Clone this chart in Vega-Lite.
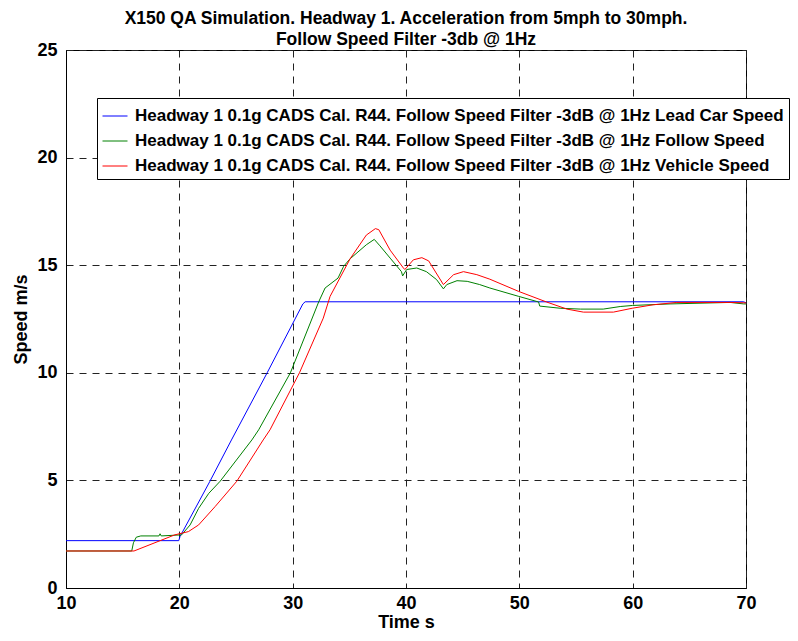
{
  "$schema": "https://vega.github.io/schema/vega-lite/v6.json",
  "width": 680,
  "height": 538,
  "autosize": {"type": "none"},
  "padding": {"left": 66, "top": 50, "right": 52, "bottom": 53},
  "background": "white",
  "config": {
    "font": "Liberation Sans",
    "view": {"stroke": "black", "strokeWidth": 1},
    "axis": {
      "gridDash": [7, 6],
      "gridColor": "#222222",
      "gridOpacity": 1,
      "gridWidth": 1,
      "domainColor": "black",
      "ticks": false,
      "labelFlush": false,
      "labelFont": "Liberation Sans",
      "labelFontWeight": "bold",
      "labelFontSize": 18,
      "labelColor": "black",
      "titleFont": "Liberation Sans",
      "titleFontWeight": "bold",
      "titleFontSize": 18,
      "titleColor": "black"
    }
  },
  "title": {
    "text": ["X150 QA Simulation. Headway 1. Acceleration from 5mph to 30mph.", "Follow Speed Filter -3db @ 1Hz"],
    "font": "Liberation Sans",
    "fontSize": 17.5,
    "fontWeight": "bold",
    "color": "black",
    "anchor": "middle",
    "offset": -7,
    "lineHeight": 21
  },
  "data": {
    "values": [
      {"s": "Lead Car Speed", "t": 10, "v": 2.2},
      {"s": "Lead Car Speed", "t": 19.95, "v": 2.2},
      {"s": "Lead Car Speed", "t": 20.06, "v": 2.39},
      {"s": "Lead Car Speed", "t": 22.7, "v": 4.96},
      {"s": "Lead Car Speed", "t": 24.6, "v": 6.88},
      {"s": "Lead Car Speed", "t": 27.75, "v": 10.0},
      {"s": "Lead Car Speed", "t": 30.9, "v": 13.2},
      {"s": "Lead Car Speed", "t": 31.1, "v": 13.3},
      {"s": "Lead Car Speed", "t": 69.8, "v": 13.3},
      {"s": "Lead Car Speed", "t": 70, "v": 13.25},

      {"s": "Follow Speed", "t": 10, "v": 1.72},
      {"s": "Follow Speed", "t": 15.8, "v": 1.72},
      {"s": "Follow Speed", "t": 15.95, "v": 2.1},
      {"s": "Follow Speed", "t": 16.2, "v": 2.36},
      {"s": "Follow Speed", "t": 16.6, "v": 2.42},
      {"s": "Follow Speed", "t": 18.2, "v": 2.42},
      {"s": "Follow Speed", "t": 18.3, "v": 2.52},
      {"s": "Follow Speed", "t": 18.4, "v": 2.42},
      {"s": "Follow Speed", "t": 20.2, "v": 2.47},
      {"s": "Follow Speed", "t": 20.95, "v": 2.93},
      {"s": "Follow Speed", "t": 21.7, "v": 3.7},
      {"s": "Follow Speed", "t": 22.6, "v": 4.4},
      {"s": "Follow Speed", "t": 23.6, "v": 4.96},
      {"s": "Follow Speed", "t": 26.4, "v": 6.88},
      {"s": "Follow Speed", "t": 27.0, "v": 7.35},
      {"s": "Follow Speed", "t": 29.8, "v": 10.0},
      {"s": "Follow Speed", "t": 32.3, "v": 13.3},
      {"s": "Follow Speed", "t": 32.86, "v": 13.94},
      {"s": "Follow Speed", "t": 34.0, "v": 14.4},
      {"s": "Follow Speed", "t": 34.5, "v": 14.95},
      {"s": "Follow Speed", "t": 35.07, "v": 15.3},
      {"s": "Follow Speed", "t": 36.5, "v": 15.95},
      {"s": "Follow Speed", "t": 37.2, "v": 16.2},
      {"s": "Follow Speed", "t": 37.7, "v": 15.9},
      {"s": "Follow Speed", "t": 38.6, "v": 15.33},
      {"s": "Follow Speed", "t": 39.6, "v": 14.7},
      {"s": "Follow Speed", "t": 39.7, "v": 14.5},
      {"s": "Follow Speed", "t": 40.06, "v": 14.8},
      {"s": "Follow Speed", "t": 40.95, "v": 14.87},
      {"s": "Follow Speed", "t": 41.8, "v": 14.7},
      {"s": "Follow Speed", "t": 42.7, "v": 14.33},
      {"s": "Follow Speed", "t": 43.3, "v": 13.9},
      {"s": "Follow Speed", "t": 43.6, "v": 14.1},
      {"s": "Follow Speed", "t": 44.5, "v": 14.28},
      {"s": "Follow Speed", "t": 45.4, "v": 14.25},
      {"s": "Follow Speed", "t": 46.5, "v": 14.1},
      {"s": "Follow Speed", "t": 47.4, "v": 13.94},
      {"s": "Follow Speed", "t": 49.95, "v": 13.55},
      {"s": "Follow Speed", "t": 51.7, "v": 13.29},
      {"s": "Follow Speed", "t": 51.8, "v": 13.1},
      {"s": "Follow Speed", "t": 53.6, "v": 13.0},
      {"s": "Follow Speed", "t": 55.4, "v": 12.96},
      {"s": "Follow Speed", "t": 57.4, "v": 12.96},
      {"s": "Follow Speed", "t": 58.9, "v": 13.08},
      {"s": "Follow Speed", "t": 60.0, "v": 13.13},
      {"s": "Follow Speed", "t": 63.3, "v": 13.2},
      {"s": "Follow Speed", "t": 68.6, "v": 13.27},
      {"s": "Follow Speed", "t": 69.8, "v": 13.2},
      {"s": "Follow Speed", "t": 70, "v": 13.2},

      {"s": "Vehicle Speed", "t": 10, "v": 1.72},
      {"s": "Vehicle Speed", "t": 16.0, "v": 1.72},
      {"s": "Vehicle Speed", "t": 19.6, "v": 2.47},
      {"s": "Vehicle Speed", "t": 20.8, "v": 2.62},
      {"s": "Vehicle Speed", "t": 21.7, "v": 2.93},
      {"s": "Vehicle Speed", "t": 23.15, "v": 3.78},
      {"s": "Vehicle Speed", "t": 25.07, "v": 4.96},
      {"s": "Vehicle Speed", "t": 27.4, "v": 6.88},
      {"s": "Vehicle Speed", "t": 28.0, "v": 7.35},
      {"s": "Vehicle Speed", "t": 30.6, "v": 10.0},
      {"s": "Vehicle Speed", "t": 32.7, "v": 12.54},
      {"s": "Vehicle Speed", "t": 33.3, "v": 13.55},
      {"s": "Vehicle Speed", "t": 35.07, "v": 15.3},
      {"s": "Vehicle Speed", "t": 36.5, "v": 16.4},
      {"s": "Vehicle Speed", "t": 37.3, "v": 16.7},
      {"s": "Vehicle Speed", "t": 37.6, "v": 16.65},
      {"s": "Vehicle Speed", "t": 38.6, "v": 15.7},
      {"s": "Vehicle Speed", "t": 39.77, "v": 14.87},
      {"s": "Vehicle Speed", "t": 39.9, "v": 14.8},
      {"s": "Vehicle Speed", "t": 40.65, "v": 15.25},
      {"s": "Vehicle Speed", "t": 41.4, "v": 15.35},
      {"s": "Vehicle Speed", "t": 42.0, "v": 15.2},
      {"s": "Vehicle Speed", "t": 43.3, "v": 14.1},
      {"s": "Vehicle Speed", "t": 44.2, "v": 14.56},
      {"s": "Vehicle Speed", "t": 45.07, "v": 14.7},
      {"s": "Vehicle Speed", "t": 46.25, "v": 14.56},
      {"s": "Vehicle Speed", "t": 47.4, "v": 14.35},
      {"s": "Vehicle Speed", "t": 49.95, "v": 13.78},
      {"s": "Vehicle Speed", "t": 52.4, "v": 13.29},
      {"s": "Vehicle Speed", "t": 54.2, "v": 12.96},
      {"s": "Vehicle Speed", "t": 55.65, "v": 12.82},
      {"s": "Vehicle Speed", "t": 58.3, "v": 12.82},
      {"s": "Vehicle Speed", "t": 59.96, "v": 13.0},
      {"s": "Vehicle Speed", "t": 61.8, "v": 13.16},
      {"s": "Vehicle Speed", "t": 63.9, "v": 13.27},
      {"s": "Vehicle Speed", "t": 68.6, "v": 13.27},
      {"s": "Vehicle Speed", "t": 70, "v": 13.25}
    ]
  },
  "mark": {"type": "line", "strokeWidth": 1, "clip": true},
  "encoding": {
    "x": {
      "field": "t",
      "type": "quantitative",
      "scale": {"domain": [10, 70], "nice": false},
      "axis": {"values": [10, 20, 30, 40, 50, 60, 70], "title": "Time s", "labelPadding": 6, "titlePadding": 1}
    },
    "y": {
      "field": "v",
      "type": "quantitative",
      "scale": {"domain": [0, 25], "nice": false},
      "axis": {"values": [0, 5, 10, 15, 20, 25], "title": "Speed m/s", "labelPadding": 9, "titlePadding": 6}
    },
    "color": {
      "field": "s",
      "type": "nominal",
      "scale": {"domain": ["Lead Car Speed", "Follow Speed", "Vehicle Speed"], "range": ["#0000ff", "#008000", "#ff0000"]},
      "legend": {
        "title": null,
        "orient": "none",
        "legendX": 31,
        "legendY": 48,
        "direction": "vertical",
        "fillColor": "white",
        "strokeColor": "black",
        "padding": 5,
        "rowPadding": 4,
        "symbolType": "stroke",
        "symbolSize": 625,
        "symbolStrokeWidth": 1,
        "symbolOffset": 0,
        "labelFont": "Liberation Sans",
        "labelFontSize": 17,
        "labelFontWeight": "bold",
        "labelColor": "black",
        "labelLimit": 1000,
        "labelOffset": 7,
        "labelExpr": "'Headway 1 0.1g CADS Cal. R44. Follow Speed Filter -3dB @ 1Hz ' + datum.label"
      }
    }
  }
}
